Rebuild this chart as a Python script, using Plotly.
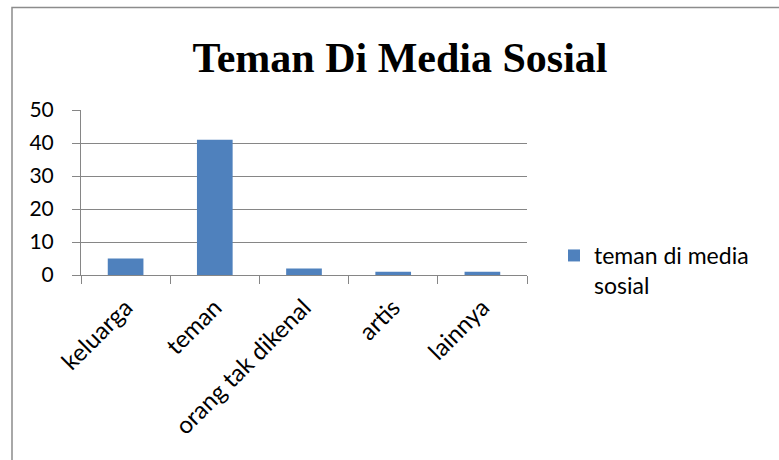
import plotly.graph_objects as go

categories = ["keluarga", "teman", "orang tak dikenal", "artis", "lainnya"]
values = [5, 41, 2, 1, 1]
series_name = "teman di media<br>sosial"
y_ticks = [0, 10, 20, 30, 40, 50]

W, H = 779, 460
L, R, T, B = 81, 252, 110, 185
pw = W - L - R
ph = H - T - B

def px_x(x):
    return (x - L) / pw

def px_y(y):
    return (H - B - y) / ph

fig = go.Figure()
fig.add_trace(go.Bar(x=categories, y=values, name=series_name,
                     marker=dict(color="#4F81BD", line=dict(width=0)),
                     showlegend=True))

ytick_font = dict(family="Lato, Noto Sans, sans-serif", size=21, color="#000000")
xtick_font = dict(family="Lato, Noto Sans, sans-serif", size=24, color="#000000")
legend_font = dict(family="Lato, Noto Sans, sans-serif", size=23, color="#000000")
fig.update_layout(
    width=W, height=H,
    margin=dict(l=L, r=R, t=T, b=B),
    paper_bgcolor="white", plot_bgcolor="white",
    bargap=0.6,
    title=dict(text="<b>Teman Di Media Sosial</b>",
               font=dict(family="Liberation Serif, Times New Roman, serif", size=42, color="#000000"),
               x=400 / W, xanchor="center", y=1 - 57 / H, yanchor="middle"),
    showlegend=True,
    legend=dict(x=px_x(554), y=px_y(234), xanchor="left", yanchor="top", valign="top",
                font=legend_font, bgcolor="rgba(0,0,0,0)", itemwidth=30,
                tracegroupgap=0),
    xaxis=dict(type="category", tickangle=-45, tickson="boundaries", ticks="outside",
               ticklen=8, tickcolor="#868686", showgrid=False, showline=True,
               linecolor="#868686", linewidth=1, tickfont=xtick_font,
               ticklabelstandoff=8),
    yaxis=dict(range=[0, 50], tickvals=y_ticks, ticks="outside", ticklen=8,
               tickcolor="#868686", showgrid=True, gridcolor="#868686", gridwidth=1,
               showline=True, linecolor="#868686", linewidth=1, zeroline=False,
               tickfont=ytick_font, ticklabelstandoff=14),
    shapes=[dict(type="rect", xref="paper", yref="paper",
                 x0=px_x(12), x1=px_x(840), y0=px_y(490), y1=px_y(7.5),
                 line=dict(color="#8C8C8C", width=1.5), fillcolor="rgba(0,0,0,0)", layer="below")],
)

fig.write_html("out.html")
